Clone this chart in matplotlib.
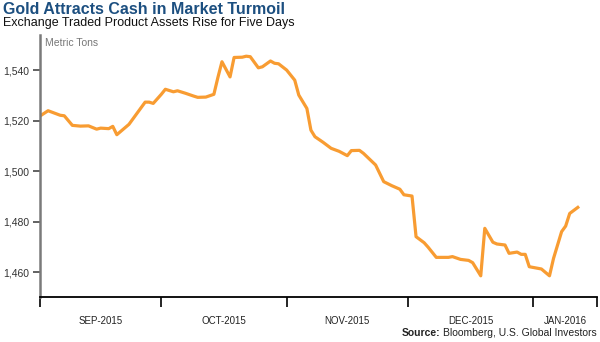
import numpy as np
import pandas as pd
import matplotlib
matplotlib.use("Agg")
import matplotlib.pyplot as plt
import matplotlib.dates as mdates
from matplotlib.ticker import FuncFormatter

# ---- data -----------------------------------------------------------------
dates = [
    "2015-09-01", "2015-09-03", "2015-09-06", "2015-09-07", "2015-09-09",
    "2015-09-11", "2015-09-13", "2015-09-15", "2015-09-16", "2015-09-18",
    "2015-09-19", "2015-09-20", "2015-09-23", "2015-09-27", "2015-09-28",
    "2015-09-29", "2015-10-01", "2015-10-02", "2015-10-04", "2015-10-05",
    "2015-10-07", "2015-10-09", "2015-10-10", "2015-10-12", "2015-10-14",
    "2015-10-15", "2015-10-16", "2015-10-18", "2015-10-19", "2015-10-21",
    "2015-10-22", "2015-10-23", "2015-10-25", "2015-10-26", "2015-10-28",
    "2015-10-29", "2015-10-30", "2015-11-01", "2015-11-03", "2015-11-04",
    "2015-11-06", "2015-11-07", "2015-11-08", "2015-11-10", "2015-11-12",
    "2015-11-14", "2015-11-16", "2015-11-17", "2015-11-19", "2015-11-20",
    "2015-11-23", "2015-11-25", "2015-11-27", "2015-11-29", "2015-11-30",
    "2015-12-02", "2015-12-03", "2015-12-05", "2015-12-06", "2015-12-08",
    "2015-12-11", "2015-12-12", "2015-12-14", "2015-12-16", "2015-12-17",
    "2015-12-19", "2015-12-20", "2015-12-22", "2015-12-23", "2015-12-25",
    "2015-12-26", "2015-12-28", "2015-12-29", "2015-12-30", "2015-12-31",
    "2016-01-03", "2016-01-05", "2016-01-06", "2016-01-08", "2016-01-09",
    "2016-01-10", "2016-01-12",
]
tons = [
    1521.8, 1523.9, 1522.1, 1521.9, 1518.1,
    1517.8, 1517.9, 1516.6, 1517.0, 1516.8,
    1517.7, 1514.4, 1518.5, 1527.3, 1527.3,
    1526.8, 1530.4, 1532.4, 1531.4, 1531.8,
    1530.8, 1529.7, 1529.2, 1529.3, 1530.4,
    1537.1, 1543.3, 1537.3, 1545.0, 1545.1,
    1545.5, 1545.3, 1540.9, 1541.3, 1543.6,
    1542.7, 1542.5, 1540.0, 1536.0, 1530.1,
    1524.8, 1516.2, 1513.6, 1511.4, 1509.0,
    1507.8, 1506.1, 1508.1, 1508.2, 1507.0,
    1502.4, 1495.8, 1494.2, 1492.8, 1490.6,
    1490.1, 1474.0, 1471.6, 1469.8, 1465.8,
    1465.8, 1466.1, 1465.0, 1464.6, 1463.7,
    1458.5, 1477.3, 1471.8, 1471.1, 1470.7,
    1467.4, 1467.9, 1467.0, 1467.0, 1462.1,
    1461.2, 1458.5, 1465.4, 1476.0, 1478.2,
    1483.2, 1485.6,
]
month_starts = ["2015-09-01", "2015-10-01", "2015-11-01", "2015-12-01", "2016-01-01"]
month_labels = ["SEP-2015", "OCT-2015", "NOV-2015", "DEC-2015", "JAN-2016"]
x_end = "2016-01-16 18:00"
y_ticks = [1460, 1480, 1500, 1520, 1540]

ORANGE = "#f89c32"
NAVY = "#1c4f80"
FONT = ["Liberation Sans", "DejaVu Sans"]
plt.rcParams["font.family"] = FONT

x = pd.to_datetime(dates)
starts = pd.to_datetime(month_starts)
end = pd.Timestamp(x_end)
edges = list(starts) + [end]
mids = [a + (b - a) / 2 for a, b in zip(edges[:-1], edges[1:])]

fig = plt.figure(figsize=(6.0, 3.42), dpi=100)
ax = fig.add_axes([40 / 600, 45 / 342, 557 / 600, 262 / 342])

ax.plot(x, tons, color=ORANGE, lw=2.3, solid_joinstyle="round")

ax.set_xlim(starts[0], end)
ax.set_ylim(1450.1, 1553.9)

for s in ("top", "right"):
    ax.spines[s].set_visible(False)
ax.spines["left"].set_color("#7a7a7a")
ax.spines["left"].set_linewidth(1.8)
ax.spines["bottom"].set_color("black")
ax.spines["bottom"].set_linewidth(1.3)

ax.set_yticks(y_ticks)
ax.yaxis.set_major_formatter(FuncFormatter(lambda v, p: f"{v:,.0f}"))
ax.tick_params(axis="y", length=5, width=1.3, color="#555555", pad=3,
               labelsize=7.5, labelcolor="#333333")

ax.set_xticks(edges)
ax.set_xticklabels([""] * len(edges))
ax.set_xticks(mids, minor=True)
ax.set_xticklabels(month_labels, minor=True, fontsize=7, color="#222222")
ax.tick_params(axis="x", which="major", length=7, width=1.2, color="black")
ax.tick_params(axis="x", which="minor", length=0, pad=14)

ax.text(5 / 557, 1.0 - 3 / 262, "Metric Tons", transform=ax.transAxes,
        fontsize=7.5, color="#777777", va="top", ha="left")

fig.text(3 / 600, 1 - 10 / 342, "Gold Attracts Cash in Market Turmoil",
         fontsize=11.5, weight="bold", color=NAVY, ha="left", va="center")
fig.text(3 / 600, 1 - 23 / 342, "Exchange Traded Product Assets Rise for Five Days",
         fontsize=9, color="#111111", ha="left", va="center")

# source line: bold "Source:" followed by normal text, right aligned
src = fig.text(597 / 600, 1 - 333 / 342, "Bloomberg, U.S. Global Investors",
               fontsize=7.5, color="#222222", ha="right", va="center")
fig.canvas.draw()
bb = src.get_window_extent(fig.canvas.get_renderer())
fig.text((bb.x0 - 3) / fig.bbox.width, 1 - 333 / 342, "Source:",
         fontsize=7.5, weight="bold", color="#222222", ha="right", va="center")

fig.savefig("out.png", dpi=100)
